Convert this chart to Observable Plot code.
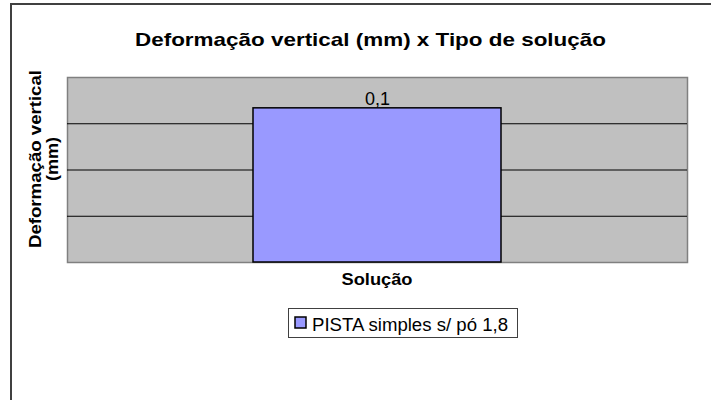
<!DOCTYPE html>
<html>
<head>
<meta charset="utf-8">
<script src="https://cdn.jsdelivr.net/npm/d3@7"></script>
<script src="https://cdn.jsdelivr.net/npm/@observablehq/plot@0.6"></script>
<style>
  html, body { margin: 0; padding: 0; background: #fff; }
  svg { display: block; }
</style>
</head>
<body>
<div id="chart"></div>
<script>
// ---- data ----
const categories = ["PISTA simples s/ pó 1,8"];
const values = [0.1];
const yDomain = [0, 0.12];
const gridTicks = [0.03, 0.06, 0.09];
const titleText = "Deformação vertical (mm) x Tipo de solução";
const yLabelLines = ["Deformação vertical", "(mm)"];
const xLabelText = "Solução";

const data = categories.map((c, i) => ({cat: c, value: values[i]}));
const fmt = d3.formatLocale({decimal: ",", thousands: ".", grouping: [3], currency: ["", ""]}).format(".1f");

const font = "'Liberation Sans', Arial, sans-serif";
const barFill = "#9999FF";

const chart = Plot.plot({
  width: 711,
  height: 400,
  marginLeft: 67,
  marginRight: 24,
  marginTop: 77,
  marginBottom: 138,
  style: {fontFamily: font, background: "#fff", overflow: "visible"},
  x: {domain: categories, paddingInner: 0, paddingOuter: 0.75, axis: null},
  y: {domain: yDomain, axis: null},
  marks: [
    Plot.frame({fill: "#C0C0C0", stroke: "#808080", strokeWidth: 1.5}),
    Plot.ruleY(gridTicks, {stroke: "#000", strokeWidth: 1}),
    Plot.barY(data, {x: "cat", y: "value", fill: barFill, stroke: "#000", strokeWidth: 1.5}),
    Plot.text(data, {x: "cat", y: "value", text: d => fmt(d.value), fontSize: 18, fill: "#000",
                     lineAnchor: "bottom", dy: -3})
  ]
});

document.getElementById("chart").appendChild(chart);

const svg = d3.select(chart);

// outer chart-area border (top + left visible)
svg.append("rect")
  .attr("x", 11).attr("y", 4).attr("width", 720).attr("height", 420)
  .attr("fill", "none").attr("stroke", "#404040").attr("stroke-width", 2);

// title
svg.append("text")
  .attr("x", 370.5).attr("y", 45.7)
  .attr("text-anchor", "middle")
  .attr("font-family", font).attr("font-weight", "bold").attr("font-size", 19)
  .attr("textLength", 471).attr("lengthAdjust", "spacingAndGlyphs")
  .attr("fill", "#000")
  .text(titleText);

// y-axis label (two lines, rotated)
const yl = svg.append("g").attr("transform", "translate(0,159) rotate(-90)");
yl.append("text")
  .attr("x", 0).attr("y", 40.7)
  .attr("text-anchor", "middle")
  .attr("font-family", font).attr("font-weight", "bold").attr("font-size", 16)
  .attr("textLength", 178).attr("lengthAdjust", "spacingAndGlyphs")
  .attr("fill", "#000")
  .text(yLabelLines[0]);
yl.append("text")
  .attr("x", 0).attr("y", 58)
  .attr("text-anchor", "middle")
  .attr("font-family", font).attr("font-weight", "bold").attr("font-size", 16)
  .attr("textLength", 44).attr("lengthAdjust", "spacingAndGlyphs")
  .attr("fill", "#000")
  .text(yLabelLines[1]);

// x-axis label
svg.append("text")
  .attr("x", 377).attr("y", 285)
  .attr("text-anchor", "middle")
  .attr("font-family", font).attr("font-weight", "bold").attr("font-size", 16)
  .attr("textLength", 71).attr("lengthAdjust", "spacingAndGlyphs")
  .attr("fill", "#000")
  .text(xLabelText);

// legend
const lg = svg.append("g");
lg.append("rect")
  .attr("x", 288.5).attr("y", 308.5).attr("width", 229).attr("height", 29)
  .attr("fill", "#fff").attr("stroke", "#404040").attr("stroke-width", 1);
lg.append("rect")
  .attr("x", 295).attr("y", 317).attr("width", 11).attr("height", 11)
  .attr("fill", barFill).attr("stroke", "#000").attr("stroke-width", 1.5);
lg.append("text")
  .attr("x", 312).attr("y", 331)
  .attr("text-anchor", "start")
  .attr("font-family", font).attr("font-size", 18)
  .attr("textLength", 196).attr("lengthAdjust", "spacingAndGlyphs")
  .attr("fill", "#000")
  .text(categories[0]);
</script>
</body>
</html>
